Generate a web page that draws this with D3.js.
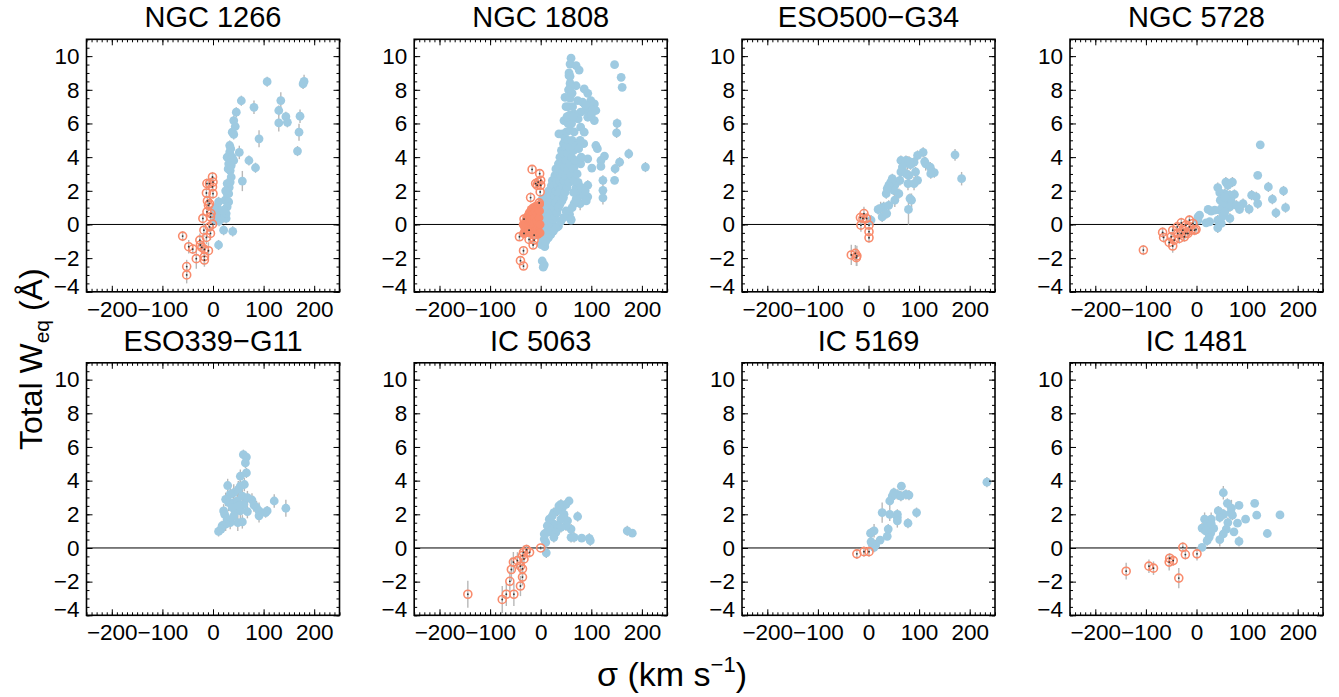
<!DOCTYPE html>
<html><head><meta charset="utf-8">
<script src="https://cdn.jsdelivr.net/npm/d3@7"></script>
<style>
body{margin:0;background:#fff}
text{font-family:"Liberation Sans",Arial,Helvetica,sans-serif;fill:#000}
</style>
</head><body>
<svg id="c" width="1339" height="697"></svg>
<script>
// ---------- categories / ticks ----------
const galaxies = ["NGC 1266","NGC 1808","ESO500\u2212G34","NGC 5728","ESO339\u2212G11","IC 5063","IC 5169","IC 1481"];
const xTicks = [-200,-100,0,100,200];
const yTicks = [-4,-2,0,2,4,6,8,10];
const xDomain = [-250,250];
const yDomain = [-4,11];

// ---------- data: [sigma (km/s), total W_eq (A), error] ----------
const ngc1266Blue = [[107,8.48,0.3],[180,8.5,0.4],[178,8.35,0.3],[56,7.35,0.3],[81,6.96,0.4],[134,7.36,0.5],[130,6.77,0.3],[130,6.03,0.5],[144,6.4,0.3],[147,6.07,0.3],[172,6.43,0.4],[170,5.48,0.5],[167,4.36,0.3],[91,5.09,0.5],[71,3.8,0.3],[84,3.37,0.3],[58,2.58,0.6],[52,4.28,0.4],[46,6.67,0.3],[41,6.17,0.3],[44,5.82,0.3],[38,5.48,0.3],[41,5.35,0.3],[33,4.69,0.3],[33,4.3,0.3],[28,4.0,0.3],[38,4.0,0.3],[31,3.6,0.3],[41,3.8,0.3],[34,3.2,0.3],[36,2.82,0.3],[28,2.43,0.3],[34,2.52,0.3],[31,1.83,0.3],[24,1.44,0.3],[31,1.34,0.3],[28,1.05,0.3],[8,1.05,0.3],[8,0.65,0.3],[5,0.26,0.3],[15,0.36,0.3],[21,0.41,0.3],[26,0.36,0.3],[21,-0.34,0.3],[39,-0.41,0.3],[11,-1.22,0.3],[11,1.34,0.3],[26,0.65,0.3],[28,1.83,0.3],[21,0.85,0.3],[35,4.5,0.3],[30,3.3,0.3],[36,3.5,0.3],[32,2.2,0.3],[25,2.0,0.3],[3,0.9,0.3],[6,0.5,0.3],[12,0.2,0.3]];
const ngc1266Ring = [[-60,-0.69,0.3],[-48,-1.32,0.4],[-40,-1.46,0.3],[-52,-2.5,0.4],[-52,-3.0,0.5],[-33,-2.03,0.6],[-26,-0.93,0.4],[-25,-1.22,0.3],[-22,-1.36,0.3],[-18,-0.34,0.4],[-20,0.36,0.3],[-17,-1.48,0.4],[-17,-1.91,0.5],[-17,-2.11,0.4],[-9,-1.56,0.5],[-13,-0.77,0.4],[-12,0.75,0.3],[-11,1.4,0.3],[-13,1.87,0.3],[-12,2.43,0.3],[-7,2.43,0.3],[-7,1.24,0.4],[-9,1.14,0.3],[-5,0.45,0.3],[-1,2.82,0.3],[0,2.52,0.3],[-1,2.23,0.3],[0,1.83,0.3],[-4,0.65,0.3],[-5,-0.53,0.4],[-1,0.02,0.3],[-7,-0.14,0.3]];

const ngc1808Blue = [[60,9.88,0.2],[58,9.53,0.2],[70,9.43,0.2],[76,9.17,0.2],[56,8.84,0.2],[58,8.38,0.2],[70,8.24,0.2],[86,8.05,0.2],[93,7.79,0.2],[48,7.55,0.2],[73,7.36,0.2],[83,7.26,0.2],[99,7.36,0.2],[106,7.16,0.2],[109,6.77,0.2],[96,6.96,0.2],[89,6.77,0.2],[79,6.67,0.2],[66,6.57,0.2],[60,6.47,0.2],[74,6.27,0.2],[93,6.37,0.2],[79,5.78,0.2],[86,5.48,0.2],[106,6.17,0.2],[46,6.17,0.2],[43,5.38,0.2],[36,5.38,0.2],[109,4.69,0.2],[112,4.5,0.2],[93,3.9,0.2],[101,3.35,0.2],[119,3.8,0.2],[126,4.06,0.2],[119,3.45,0.2],[146,9.49,0.2],[159,8.74,0.2],[161,8.15,0.2],[151,6.0,0.3],[150,5.44,0.3],[174,4.2,0.3],[156,3.7,0.3],[147,3.31,0.3],[146,2.62,0.2],[207,3.41,0.3],[123,2.62,0.3],[123,2.03,0.3],[123,1.58,0.4],[93,2.33,0.3],[93,1.64,0.3],[78,1.24,0.4],[73,2.03,0.3],[66,1.24,0.3],[79,3.6,0.2],[66,3.41,0.2],[60,0.26,0.2],[33,-0.14,0.2],[7,-0.43,0.2],[7,-0.93,0.2],[8,-1.32,0.2],[3,-2.17,0.2],[7,-2.4,0.2],[5,-2.54,0.2],
[1,-1.2,0.2],[2,-0.7,0.2],[1,-0.2,0.2],[3,0.3,0.2],[2,0.8,0.2],[4,1.2,0.2],[3,1.5,0.2],[5,-0.9,0.2],[6,-0.4,0.2],[5,0.1,0.2],[7,0.6,0.2],[6,1.0,0.2],[8,-0.6,0.2],[9,-0.1,0.2],[8,0.4,0.2],[10,0.9,0.2],[9,1.4,0.2],[11,-0.4,0.2],[12,0.2,0.2],[13,0.7,0.2],[12,1.2,0.2],[14,1.7,0.2],[15,-0.3,0.2],[16,0.4,0.2],[15,0.9,0.2],[17,1.4,0.2],[16,2.0,0.2],[18,-0.1,0.2],[19,0.6,0.2],[20,1.1,0.2],[19,1.7,0.2],[21,2.3,0.2],[22,0.1,0.2],[23,0.8,0.2],[22,1.4,0.2],[24,2.0,0.2],[23,2.6,0.2],[25,0.3,0.2],[26,1.0,0.2],[27,1.7,0.2],[26,2.3,0.2],[28,2.9,0.2],[28,0.5,0.2],[29,1.3,0.2],[30,2.0,0.2],[31,2.6,0.2],[30,3.3,0.2],[32,0.7,0.2],[33,1.5,0.2],[34,2.3,0.2],[33,3.0,0.2],[35,3.6,0.2],[35,1.0,0.2],[36,1.9,0.2],[37,2.6,0.2],[36,3.3,0.2],[38,4.0,0.2],[38,1.2,0.2],[39,2.1,0.2],[40,2.9,0.2],[40,3.6,0.2],[41,4.4,0.2],[42,1.4,0.2],[43,2.3,0.2],[43,3.1,0.2],[44,3.9,0.2],[45,4.8,0.2],[45,1.6,0.2],[46,2.6,0.2],[47,3.4,0.2],[46,4.2,0.2],[48,5.1,0.2],[48,1.9,0.2],[49,2.9,0.2],[50,3.8,0.2],[50,4.6,0.2],[51,5.5,0.2],[52,2.2,0.2],[53,3.2,0.2],[53,4.2,0.2],[54,5.0,0.2],[54,6.0,0.2],[55,7.0,0.2],[56,2.5,0.2],[57,3.6,0.2],[57,4.6,0.2],[58,5.6,0.2],[57,6.5,0.2],[58,7.5,0.2],[59,8.2,0.2],[60,2.9,0.2],[61,4.0,0.2],[62,5.0,0.2],[61,6.0,0.2],[63,7.0,0.2],[64,3.3,0.2],[65,4.4,0.2],[66,5.5,0.2],[68,3.8,0.2],[70,4.7,0.2],[52,6.4,0.2],[50,7.0,0.2],[55,8.0,0.2],[56,9.0,0.2],[58,8.8,0.2],[62,7.8,0.2],[64,6.4,0.2],[66,2.6,0.2],[70,2.2,0.2],[72,3.0,0.2],[74,2.5,0.2],[76,1.8,0.2],[80,2.2,0.2],[84,1.7,0.2],[88,2.0,0.2],[90,1.4,0.2],[70,1.5,0.2],[62,1.0,0.2],[57,0.6,0.2],[50,0.8,0.2],[45,0.4,0.2],[40,0.2,0.2],[35,-0.1,0.2],[30,-0.2,0.2],[25,-0.4,0.2],[20,-0.6,0.2],[15,-0.8,0.2],[10,-1.0,0.2],[65,1.9,0.2],[75,4.5,0.2],[80,4.0,0.2],[85,4.8,0.2],[78,5.0,0.2],[60,0.3,0.2],[95,7.0,0.2],[102,6.8,0.2],[88,7.1,0.2],[100,6.5,0.2]];
const ngc1808Ring = [[-17,3.27,0.2],[-2,3.02,0.2],[0,2.62,0.2],[-5,2.52,0.2],[0,2.33,0.2],[-7,2.33,0.2],[-1,1.93,0.2],[-10,2.43,0.2],[-20,1.6,0.3],[-3,1.28,0.2],[-33,0.32,0.2],[-42,-0.73,0.2],[-33,-0.53,0.2],[-23,-0.89,0.2],[-13,-0.63,0.2],[-15,-1.22,0.2],[-34,-1.56,0.2],[-40,-2.15,0.2],[-34,-2.47,0.2],[-13,-0.93,0.2],[-23,-0.34,0.2]];
const ngc1808Core = [[-32,-0.2,0.2],[-30,0.2,0.2],[-29,-0.4,0.2],[-27,0.0,0.2],[-26,0.5,0.2],[-25,-0.3,0.2],[-24,0.2,0.2],[-23,0.7,0.2],[-22,-0.5,0.2],[-21,0.0,0.2],[-20,0.4,0.2],[-19,0.9,0.2],[-18,-0.3,0.2],[-17,0.2,0.2],[-16,0.6,0.2],[-15,1.0,0.2],[-14,-0.5,0.2],[-13,0.0,0.2],[-12,0.4,0.2],[-11,0.8,0.2],[-10,1.1,0.2],[-9,-0.3,0.2],[-8,0.2,0.2],[-7,0.6,0.2],[-6,1.0,0.2],[-5,-0.6,0.2],[-4,-0.1,0.2],[-3,0.4,0.2],[-2,0.8,0.2],[-2,1.2,0.2],[-1,0.0,0.2],[-1,-0.5,0.2],[-28,0.4,0.2],[-35,0.0,0.2],[-33,-0.5,0.2]];

const eso500Blue = [[171,4.14,0.35],[184,2.72,0.4],[108,4.28,0.3],[97,4.1,0.3],[113,3.6,0.4],[111,3.73,0.3],[122,3.41,0.3],[130,3.08,0.3],[123,3.02,0.3],[90,3.7,0.3],[77,3.65,0.4],[64,3.8,0.3],[74,3.8,0.3],[80,3.75,0.3],[83,3.55,0.3],[67,3.41,0.3],[64,3.12,0.4],[62,2.62,0.3],[80,2.92,0.3],[74,3.02,0.3],[93,3.12,0.3],[97,2.62,0.3],[90,2.43,0.4],[78,2.43,0.4],[60,1.83,0.3],[52,2.33,0.4],[50,2.03,0.3],[44,2.52,0.3],[40,2.33,0.3],[35,1.83,0.3],[52,1.44,0.4],[85,1.44,0.4],[82,1.54,0.3],[79,0.89,0.9],[30,1.05,0.3],[24,0.95,0.4],[19,0.89,0.3],[27,0.45,0.3],[36,0.65,0.3],[40,1.14,0.3],[5,0.26,0.3],[47,2.72,0.3],[37,2.13,0.3]];
const eso500Ring = [[-34,-1.81,0.6],[-26,-1.72,0.5],[-23,-1.87,0.6],[-24,-1.97,0.5],[-9,0.65,0.4],[-16,0.41,0.3],[-4,0.36,0.3],[-15,-0.04,0.4],[1,-0.04,0.3],[1,-0.43,0.3],[1,-0.79,0.3],[-11,0.36,0.3]];

const ngc5728Blue = [[126,4.73,0.2],[121,2.92,0.2],[142,2.23,0.3],[172,1.99,0.3],[150,1.5,0.3],[176,1.0,0.3],[157,0.69,0.3],[109,1.74,0.3],[118,1.64,0.3],[121,1.24,0.3],[104,0.91,0.3],[92,1.24,0.3],[85,0.89,0.2],[75,1.78,0.3],[71,2.52,0.3],[58,2.52,0.3],[62,2.33,0.3],[42,2.19,0.3],[46,1.89,0.3],[56,1.83,0.3],[66,1.74,0.3],[47,1.44,0.3],[60,1.44,0.3],[69,1.34,0.3],[52,1.14,0.3],[66,1.05,0.3],[79,1.14,0.3],[46,0.85,0.3],[56,0.75,0.3],[36,0.85,0.2],[23,0.89,0.2],[29,0.79,0.2],[52,0.49,0.3],[66,0.36,0.3],[42,0.26,0.3],[26,0.16,0.2],[19,0.1,0.2],[42,-0.2,0.3],[3,0.45,0.2],[3,0.26,0.2],[6,0.55,0.2],[49,0.06,0.3],[56,1.64,0.3]];
const ngc5728Ring = [[-105,-1.52,0.3],[-67,-0.47,0.3],[-65,-0.77,0.3],[-54,-1.07,0.3],[-47,-1.28,0.4],[-47,-0.34,0.3],[-38,-0.14,0.3],[-30,0.1,0.3],[-37,-0.53,0.3],[-27,-0.34,0.3],[-21,-0.04,0.3],[-14,0.26,0.3],[-17,-0.53,0.3],[-11,-0.34,0.3],[-4,-0.34,0.3],[-44,-0.93,0.3],[-34,-0.83,0.3],[-24,-0.73,0.3],[-14,-0.14,0.3],[-7,0.06,0.3],[-1,-0.3,0.3],[-21,-0.53,0.3],[-50,-0.73,0.3],[-30,-0.53,0.3]];

const eso339Blue = [[60,5.54,0.3],[66,5.4,0.3],[64,5.05,0.3],[66,4.46,0.3],[54,4.26,0.4],[29,3.71,0.4],[62,3.77,0.4],[54,3.67,0.4],[41,3.28,0.5],[50,3.48,0.5],[34,3.18,0.5],[25,2.89,0.4],[31,2.69,0.5],[41,2.69,0.5],[48,2.79,0.5],[61,2.59,0.5],[77,2.85,0.4],[81,2.55,0.4],[121,2.79,0.4],[144,2.36,0.5],[86,2.4,0.4],[91,2.2,0.5],[104,2.1,0.3],[107,2.2,0.3],[91,1.91,0.4],[68,2.16,0.4],[54,2.2,0.5],[44,2.2,0.5],[21,2.2,0.4],[23,2.0,0.4],[28,1.71,0.4],[41,1.91,0.5],[49,1.51,0.5],[58,1.55,0.4],[34,1.51,0.4],[25,1.41,0.4],[18,1.32,0.3],[16,1.12,0.3],[11,0.98,0.3],[58,3.08,0.5],[68,2.99,0.4],[38,2.4,0.5],[51,2.5,0.5]];
const eso339Ring = [];

const ic5063Blue = [[56,2.79,0.2],[50,2.59,0.2],[40,2.59,0.3],[43,2.4,0.3],[36,2.5,0.3],[26,2.1,0.3],[33,2.2,0.3],[46,2.0,0.3],[73,1.87,0.3],[40,1.71,0.3],[53,1.61,0.3],[60,1.12,0.3],[50,1.32,0.3],[20,1.51,0.3],[26,1.41,0.3],[33,1.32,0.3],[40,1.22,0.3],[13,1.32,0.3],[13,0.92,0.3],[20,1.02,0.3],[30,0.92,0.3],[7,0.83,0.3],[7,0.53,0.3],[10,0.33,0.3],[26,0.63,0.3],[60,0.63,0.3],[66,0.63,0.3],[81,0.59,0.2],[96,0.57,0.3],[98,0.43,0.3],[171,1.02,0.3],[181,0.88,0.2],[11,-0.29,0.3],[17,1.71,0.3],[23,1.91,0.3]];
const ic5063Ring = [[-144,-2.75,0.8],[-76,-3.06,0.8],[-68,-2.75,0.7],[-53,-2.75,0.7],[-61,-1.98,0.6],[-58,-1.28,0.7],[-54,-0.84,0.6],[-46,-0.75,0.5],[-40,-1.08,0.5],[-36,-1.24,0.5],[-36,-1.73,0.5],[-40,-2.26,0.6],[-36,-0.45,0.4],[-33,-0.65,0.4],[-28,-0.1,0.3],[-22,-0.26,0.3],[0,0.0,0.1],[-34,-0.26,0.4]];

const ic5169Blue = [[234,3.91,0.3],[65,3.67,0.2],[50,3.28,0.3],[57,3.18,0.3],[47,3.08,0.3],[64,3.08,0.3],[74,3.18,0.3],[80,3.14,0.3],[42,2.79,0.4],[27,2.1,0.6],[42,2.0,0.4],[57,2.0,0.3],[57,1.81,0.4],[57,1.61,0.4],[95,2.1,0.3],[78,1.47,0.3],[39,1.12,0.3],[37,0.69,0.2],[23,0.47,0.2],[11,1.02,0.4],[4,0.88,0.3],[5,0.37,0.3],[11,0.04,0.3],[14,0.18,0.3],[7,0.24,0.3]];
const ic5169Ring = [[-23,-0.35,0.3],[-9,-0.22,0.3],[1,-0.22,0.3]];

const ic1481Blue = [[53,3.28,0.4],[61,2.65,0.3],[115,2.65,0.2],[84,2.53,0.2],[69,2.36,0.5],[68,2.1,0.4],[71,1.95,0.3],[43,2.2,0.3],[49,2.06,0.3],[54,2.0,0.3],[46,1.81,0.3],[119,1.95,0.2],[165,1.96,0.2],[97,1.71,0.2],[29,1.71,0.4],[16,1.71,0.4],[62,1.51,0.3],[81,1.47,0.2],[21,1.41,0.4],[11,1.18,0.3],[25,1.16,0.3],[34,1.16,0.3],[59,1.12,0.3],[18,1.02,0.3],[28,0.88,0.3],[53,0.83,0.4],[74,0.96,0.2],[140,0.86,0.2],[25,0.63,0.3],[21,0.43,0.3],[46,0.49,0.4],[84,0.39,0.3],[11,0.04,0.2],[29,1.45,0.3]];
const ic1481Ring = [[-139,-1.38,0.5],[-94,-1.08,0.4],[-85,-1.2,0.4],[-53,-0.61,0.3],[-46,-0.75,0.3],[-54,-0.84,0.5],[-27,0.04,0.3],[-22,-0.39,0.3],[1,-0.35,0.4],[-35,-1.79,0.6]];

const blueSets = [ngc1266Blue, ngc1808Blue, eso500Blue, ngc5728Blue, eso339Blue, ic5063Blue, ic5169Blue, ic1481Blue];
const ringSets = [ngc1266Ring, ngc1808Ring, eso500Ring, ngc5728Ring, eso339Ring, ic5063Ring, ic5169Ring, ic1481Ring];
const coreSets = [[], ngc1808Core, [], [], [], [], [], []];

// ---------- drawing ----------
const BLUE = "#9ecae1", ORANGE = "#f98b6c", ERR = "#b8b8b8";
const svg = d3.select("#c");
const W = 253, H = 252.5;
const colX = [86.5, 414.2, 742, 1070];
const rowY = [39.3, 362.8];
const minorX = d3.range(-250, 251, 10);
const minorY = d3.range(-4, 11.01, 0.5);

galaxies.forEach((name, i) => {
  const x0 = colX[i % 4], y0 = rowY[Math.floor(i / 4)];
  const x = d3.scaleLinear().domain(xDomain).range([x0, x0 + W]);
  const y = d3.scaleLinear().domain(yDomain).range([y0 + H, y0]);
  const g = svg.append("g");

  // zero line
  g.append("line").attr("x1", x0).attr("x2", x0 + W).attr("y1", y(0)).attr("y2", y(0))
    .attr("stroke", "#000").attr("stroke-width", 1);

  const all = blueSets[i].concat(coreSets[i], ringSets[i]);
  g.selectAll("line.err").data(all).enter().append("line").attr("class", "err")
    .attr("x1", d => x(d[0])).attr("x2", d => x(d[0]))
    .attr("y1", d => y(d[1] - d[2])).attr("y2", d => y(d[1] + d[2]))
    .attr("stroke", ERR).attr("stroke-width", 1.4);

  g.selectAll("circle.b").data(blueSets[i]).enter().append("circle").attr("class", "b")
    .attr("cx", d => x(d[0])).attr("cy", d => y(d[1])).attr("r", 4.4).attr("fill", BLUE);

  g.selectAll("circle.c").data(coreSets[i]).enter().append("circle").attr("class", "c")
    .attr("cx", d => x(d[0])).attr("cy", d => y(d[1])).attr("r", 4.3).attr("fill", ORANGE);

  g.selectAll("circle.r").data(ringSets[i]).enter().append("circle").attr("class", "r")
    .attr("cx", d => x(d[0])).attr("cy", d => y(d[1])).attr("r", 4.0)
    .attr("fill", "none").attr("stroke", ORANGE).attr("stroke-width", 1.6);
  g.selectAll("circle.d").data(ringSets[i]).enter().append("circle").attr("class", "d")
    .attr("cx", d => x(d[0])).attr("cy", d => y(d[1])).attr("r", 0.9).attr("fill", "#333");

  // axes
  const style = sel => { sel.select(".domain").remove(); sel.selectAll("line").attr("stroke", "#000").attr("stroke-width", 1); };
  const fontSty = sel => sel.selectAll("text").style("font-size", "22.5px").style("font-family", '"Liberation Sans",Arial,sans-serif');

  g.append("g").attr("transform", `translate(0,${y0 + H})`)
    .call(d3.axisBottom(x).tickValues(xTicks).tickSizeInner(-6).tickSizeOuter(0).tickPadding(9).tickFormat(d3.format("d")))
    .call(style).call(fontSty);
  g.append("g").attr("transform", `translate(0,${y0 + H})`)
    .call(d3.axisBottom(x).tickValues(minorX).tickSizeInner(-3).tickSizeOuter(0).tickFormat("")).call(style);
  g.append("g").attr("transform", `translate(0,${y0})`)
    .call(d3.axisTop(x).tickValues(xTicks).tickSizeInner(-6).tickSizeOuter(0).tickFormat("")).call(style);
  g.append("g").attr("transform", `translate(0,${y0})`)
    .call(d3.axisTop(x).tickValues(minorX).tickSizeInner(-3).tickSizeOuter(0).tickFormat("")).call(style);

  const left = g.append("g").attr("transform", `translate(${x0},0)`)
    .call(d3.axisLeft(y).tickValues(yTicks).tickSizeInner(-6).tickSizeOuter(0).tickPadding(7).tickFormat(d3.format("d")))
    .call(style).call(fontSty);
  left.selectAll(".tick text").filter(d => d === -4).attr("transform", "translate(0,-6)");
  g.append("g").attr("transform", `translate(${x0},0)`)
    .call(d3.axisLeft(y).tickValues(minorY).tickSizeInner(-3).tickSizeOuter(0).tickFormat("")).call(style);
  g.append("g").attr("transform", `translate(${x0 + W},0)`)
    .call(d3.axisRight(y).tickValues(yTicks).tickSizeInner(-6).tickSizeOuter(0).tickFormat("")).call(style);
  g.append("g").attr("transform", `translate(${x0 + W},0)`)
    .call(d3.axisRight(y).tickValues(minorY).tickSizeInner(-3).tickSizeOuter(0).tickFormat("")).call(style);

  // frame
  g.append("rect").attr("x", x0).attr("y", y0).attr("width", W).attr("height", H)
    .attr("fill", "none").attr("stroke", "#000").attr("stroke-width", 1.6);

  // title
  g.append("text").attr("x", x0 + W / 2).attr("y", y0 - 12).attr("text-anchor", "middle")
    .style("font-size", "29px").text(name);
});

// axis titles
const yl = svg.append("text").attr("transform", "translate(42,450) rotate(-90)")
  .attr("text-anchor", "start").style("font-size", "32px");
yl.append("tspan").text("Total W");
yl.append("tspan").attr("dy", 7).style("font-size", "21px").text("eq");
yl.append("tspan").attr("dy", -7).text(" (\u00C5)");

const xl = svg.append("text").attr("x", 597).attr("y", 686).attr("text-anchor", "start").style("font-size", "34px");
xl.append("tspan").text("\u03C3 (km s");
xl.append("tspan").attr("dy", -14).style("font-size", "22px").text("\u22121");
xl.append("tspan").attr("dy", 14).text(")");
</script>
</body></html>
